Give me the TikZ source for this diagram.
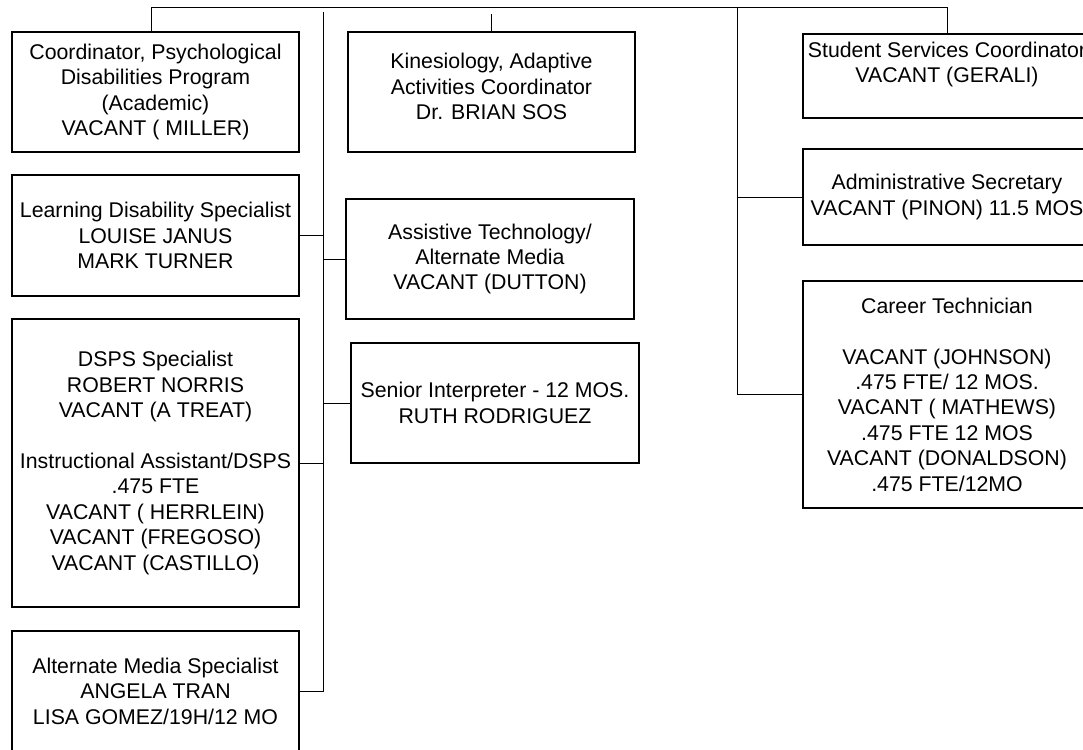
\documentclass[tikz,border=0pt]{standalone}
\usepackage{fontspec}
\setmainfont{Liberation Sans}
\begin{document}
\begin{tikzpicture}[x=1pt,y=-1pt,
  box/.style={draw=black,line width=1.4pt,rectangle,inner sep=0pt,minimum width=287pt,align=center,
    font=\fontsize{21.3}{25.4}\selectfont},
  txt/.style={inner sep=0pt,align=center,font=\fontsize{21.3}{25.4}\selectfont},
  conn/.style={draw=black,line width=0.9pt}]
\clip (0,0) rectangle (1083,749);
% boxes
\node[box,minimum height=120pt] (coord) at (155.5,92) {Coordinator, Psychological\\Disabilities Program\\(Academic)\\VACANT ( MILLER)};
\node[box,minimum height=121pt] (learn) at (155.5,235.5) {Learning Disability Specialist\\LOUISE JANUS\\MARK TURNER};
\node[box,minimum height=288pt] (dsps) at (155.5,463) {DSPS Specialist\\ROBERT NORRIS\\VACANT (A TREAT)\\[25.4pt]Instructional Assistant/DSPS\\.475 FTE\\VACANT ( HERRLEIN)\\VACANT (FREGOSO)\\VACANT (CASTILLO)};
\node[box,minimum height=120pt] (altm) at (155.5,691) {Alternate Media Specialist\\ANGELA TRAN\\LISA GOMEZ/19H/12 MO};
\node[box,minimum height=120pt] (kin) at (491.5,92) {};
\node[txt] (kint) at (491.5,86.5) {Kinesiology, Adaptive\\Activities Coordinator\\Dr. BRIAN SOS};
\node[box,minimum width=288pt,minimum height=120pt] (assist) at (490,259) {Assistive Technology/\\Alternate Media\\VACANT (DUTTON)};
\node[box,minimum width=288pt,minimum height=120pt] (senior) at (495,403) {Senior Interpreter - 12 MOS.\\RUTH RODRIGUEZ};
\node[box,minimum width=288pt,minimum height=84pt] (student) at (947,76) {};
\node[txt] (studentt) at (947,64.5) {Student Services Coordinator\\VACANT (GERALI)};
\node[box,minimum width=288pt,minimum height=96pt] (admin) at (947,197) {Administrative Secretary\\VACANT (PINON) 11.5 MOS};
\node[box,minimum width=288pt,minimum height=227pt] (career) at (947,394.5) {Career Technician\\[25.4pt]VACANT (JOHNSON)\\.475 FTE/ 12 MOS.\\VACANT ( MATHEWS)\\.475 FTE 12 MOS\\VACANT (DONALDSON)\\.475 FTE/12MO};
% connectors
\coordinate (tl) at (151,7);
\coordinate (tr) at (947,7);
\coordinate (lstop) at (323,12);
\coordinate (lsbot) at (323,691);
\coordinate (rstop) at (737,7);
\coordinate (rsbot) at (737,394.5);
\draw[conn] (tl |- coord.north) -- (tl) -- (tr) -- (student.north);
\draw[conn] (kin.north) -- ++(0,-17);
\draw[conn] (lstop) -- (lsbot) -- (altm.east);
\draw[conn] (learn.east) -- (learn.east -| lstop);
\draw[conn] (assist.west) -- (assist.west -| lstop);
\draw[conn] (dsps.east) -- (dsps.east -| lstop);
\draw[conn] (senior.west) -- (senior.west -| lstop);
\draw[conn] (rstop) -- (rsbot) -- (career.west);
\draw[conn] (admin.west) -- (admin.west -| rstop);
\end{tikzpicture}
\end{document}
